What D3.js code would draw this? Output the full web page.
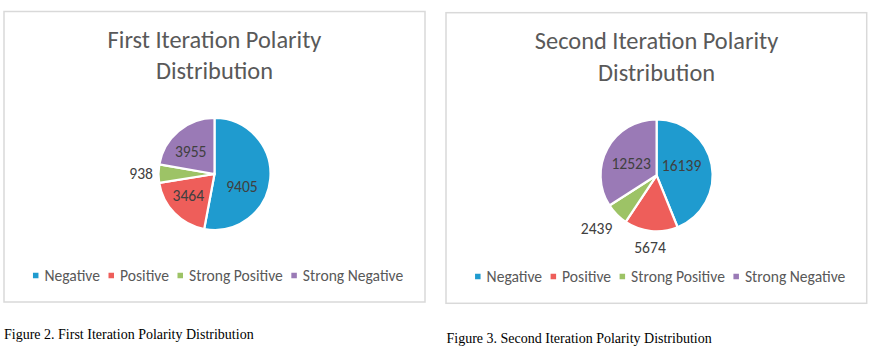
<!DOCTYPE html>
<html><head><meta charset="utf-8">
<script src="https://cdn.jsdelivr.net/npm/d3@7"></script>
<style>
html,body{margin:0;padding:0;background:#fff;}
svg{display:block;}
</style></head>
<body>
<svg id="c" width="877" height="355"></svg>
<script>
// ---- data ----
const categories = ["Negative", "Positive", "Strong Positive", "Strong Negative"];
const firstValues = [9405, 3464, 938, 3955];
const secondValues = [16139, 5674, 2439, 12523];
const firstTitle = ["First Iteration Polarity", "Distribution"];
const secondTitle = ["Second Iteration Polarity", "Distribution"];
const firstCaption = "Figure 2. First Iteration Polarity Distribution";
const secondCaption = "Figure 3. Second Iteration Polarity Distribution";

// ---- style / layout ----
const colors = ["#1f9bcf", "#ee5e5a", "#9dc366", "#9a7ab6"];
const textColor = "#595959";
const sansFont = "Carlito, Calibri, Lato, 'Open Sans', sans-serif";
const serifFont = "'Liberation Serif', 'Times New Roman', serif";

const panels = [
  { values: firstValues, title: firstTitle, caption: firstCaption,
    box: [4, 11.5, 421, 290.5], cx: 214.5, cy: 174, r: 56,
    titleY: [47.7, 79.3], legendY: 280.5, captionY: 338.5, captionX: 4,
    // label placement: [angle shift in degrees from slice mid-angle, radius factor]
    labelPlace: [[19.5, 0.54], [5.4, 0.6], [0, 1.31], [-7, 0.58]] },
  { values: secondValues, title: secondTitle, caption: secondCaption,
    box: [446, 12.7, 420.7, 290.6], cx: 656.6, cy: 175.3, r: 56,
    titleY: [49.3, 80.5], legendY: 281.5, captionY: 342.8, captionX: 446.5,
    labelPlace: [[-10.7, 0.48], [-0.5, 1.29], [3.1, 1.43], [-4.1, 0.5]] }
];

const svg = d3.select("#c");

panels.forEach(p => {
  const g = svg.append("g");
  // frame
  g.append("rect")
    .attr("x", p.box[0]).attr("y", p.box[1])
    .attr("width", p.box[2]).attr("height", p.box[3])
    .attr("fill", "#fff").attr("stroke", "#d9d9d9").attr("stroke-width", 1.5);

  // title
  p.title.forEach((t, i) => {
    g.append("text").attr("x", p.cx).attr("y", p.titleY[i])
      .attr("text-anchor", "middle").attr("fill", textColor)
      .style("font-family", sansFont).style("font-size", "24.4px")
      .text(t);
  });

  // pie
  const pie = d3.pie().sort(null).value(d => d.v);
  const arcs = pie(categories.map((c, i) => ({ c, v: p.values[i], i })));
  const arc = d3.arc().innerRadius(0).outerRadius(p.r);
  const pg = g.append("g").attr("transform", `translate(${p.cx},${p.cy})`);
  pg.selectAll("path").data(arcs).join("path")
    .attr("d", arc)
    .attr("fill", d => colors[d.data.i])
    .attr("stroke", "#fff").attr("stroke-width", 2.2).attr("stroke-linejoin", "round");

  // data labels
  pg.selectAll("text").data(arcs).join("text")
    .each(function (d) {
      const pl = p.labelPlace[d.data.i];
      const a = (d.startAngle + d.endAngle) / 2 + pl[0] * Math.PI / 180;
      const rr = p.r * pl[1];
      d3.select(this)
        .attr("x", Math.sin(a) * rr)
        .attr("y", -Math.cos(a) * rr)
        .attr("dy", "0.35em");
    })
    .attr("text-anchor", "middle")
    .attr("fill", "#404040")
    .style("font-family", sansFont).style("font-size", "15.6px")
    .text(d => d.data.v);

  // legend
  const lg = g.append("g");
  const sq = 5.5, gapText = 6, gapItem = 8.5;
  let x = 0;
  categories.forEach((c, i) => {
    const it = lg.append("g");
    it.append("rect").attr("x", x).attr("y", p.legendY - 5 - sq / 2)
      .attr("width", sq).attr("height", sq).attr("fill", colors[i]);
    const t = it.append("text").attr("x", x + sq + gapText).attr("y", p.legendY)
      .attr("fill", textColor)
      .style("font-family", sansFont).style("font-size", "15.6px")
      .text(c);
    x += sq + gapText + t.node().getComputedTextLength() + gapItem;
  });
  const total = x - gapItem;
  lg.attr("transform", `translate(${p.cx + 3.6 - total / 2},0)`);

  // caption
  svg.append("text").attr("x", p.captionX).attr("y", p.captionY)
    .attr("fill", "#000")
    .style("font-family", serifFont).style("font-size", "14px")
    .text(p.caption);
});
</script>
</body></html>
